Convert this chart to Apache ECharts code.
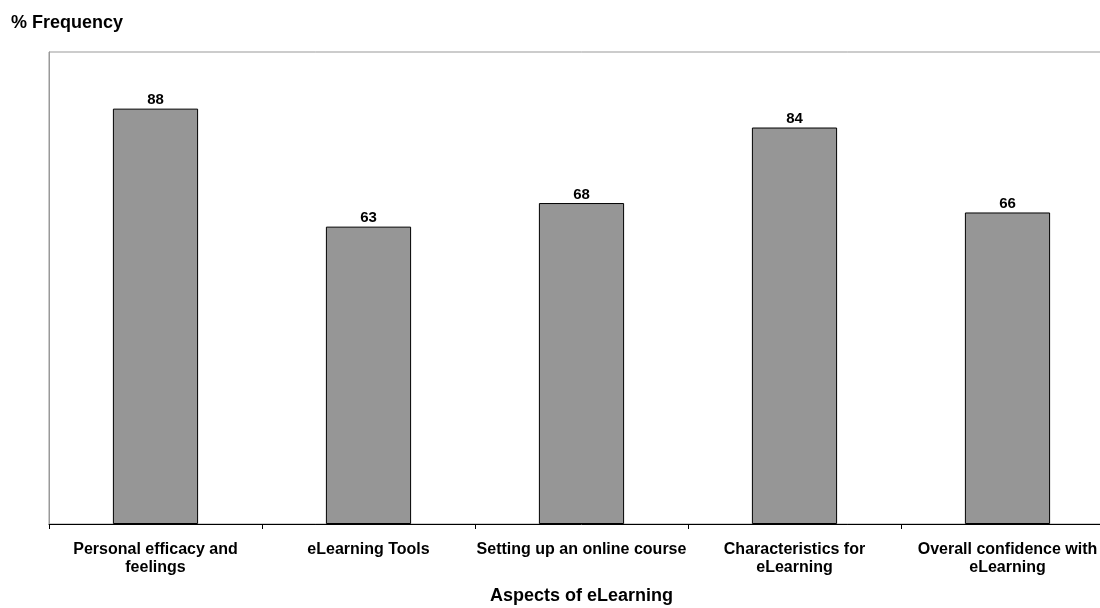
<!DOCTYPE html>
<html>
<head>
<meta charset="utf-8">
<script src="https://cdn.jsdelivr.net/npm/echarts@6/dist/echarts.min.js"></script>
<style>
  html, body { margin: 0; padding: 0; background: #fff; overflow: hidden; }
  /* the plot runs slightly past the right edge of the window */
  #chart { width: 1114px; height: 608px; }
</style>
</head>
<body>
<div id="chart"></div>
<script>
// Share of respondents per aspect of eLearning
const categories = [
  'Personal efficacy and\nfeelings',
  'eLearning Tools',
  'Setting up an online course',
  'Characteristics for\neLearning',
  'Overall confidence with\neLearning'
];
const frequency = [88, 63, 68, 84, 66];

const font = 'Arial, "Liberation Sans", Helvetica, sans-serif';
const chart = echarts.init(document.getElementById('chart'), null, { renderer: 'canvas' });

chart.setOption({
  animation: false,
  backgroundColor: '#ffffff',
  title: {
    text: '% Frequency',
    left: 6,
    top: 9,
    textStyle: { fontFamily: font, fontWeight: 'bold', fontSize: 18, color: '#000' }
  },
  grid: {
    left: 49,
    top: 52,
    right: 0,
    height: 472,
    containLabel: false,
    outerBoundsMode: 'none',
    show: true,
    borderColor: '#999999',
    borderWidth: 1,
    backgroundColor: '#ffffff'
  },
  xAxis: {
    type: 'category',
    data: categories,
    name: 'Aspects of eLearning',
    nameLocation: 'middle',
    nameGap: 63,
    nameMoveOverlap: false,
    nameTextStyle: { fontFamily: font, fontWeight: 'bold', fontSize: 18, color: '#000' },
    axisLine: { lineStyle: { color: '#000', width: 1 } },
    axisTick: { show: true, length: 5, lineStyle: { color: '#000' } },
    axisLabel: {
      interval: 0,
      margin: 17,
      fontFamily: font,
      fontWeight: 'bold',
      fontSize: 16,
      lineHeight: 18,
      color: '#000'
    }
  },
  yAxis: {
    type: 'value',
    min: 0,
    max: 100,
    axisLine: { show: true, lineStyle: { color: '#999999' } },
    axisTick: { show: false },
    axisLabel: { show: false },
    splitLine: { show: false }
  },
  series: [{
    type: 'bar',
    data: frequency,
    barWidth: '40%',
    itemStyle: { color: '#969696', borderColor: '#000', borderWidth: 1 },
    label: {
      show: true,
      position: 'top',
      distance: 1,
      fontFamily: font,
      fontWeight: 'bold',
      fontSize: 15,
      color: '#000'
    }
  }]
});
</script>
</body>
</html>
